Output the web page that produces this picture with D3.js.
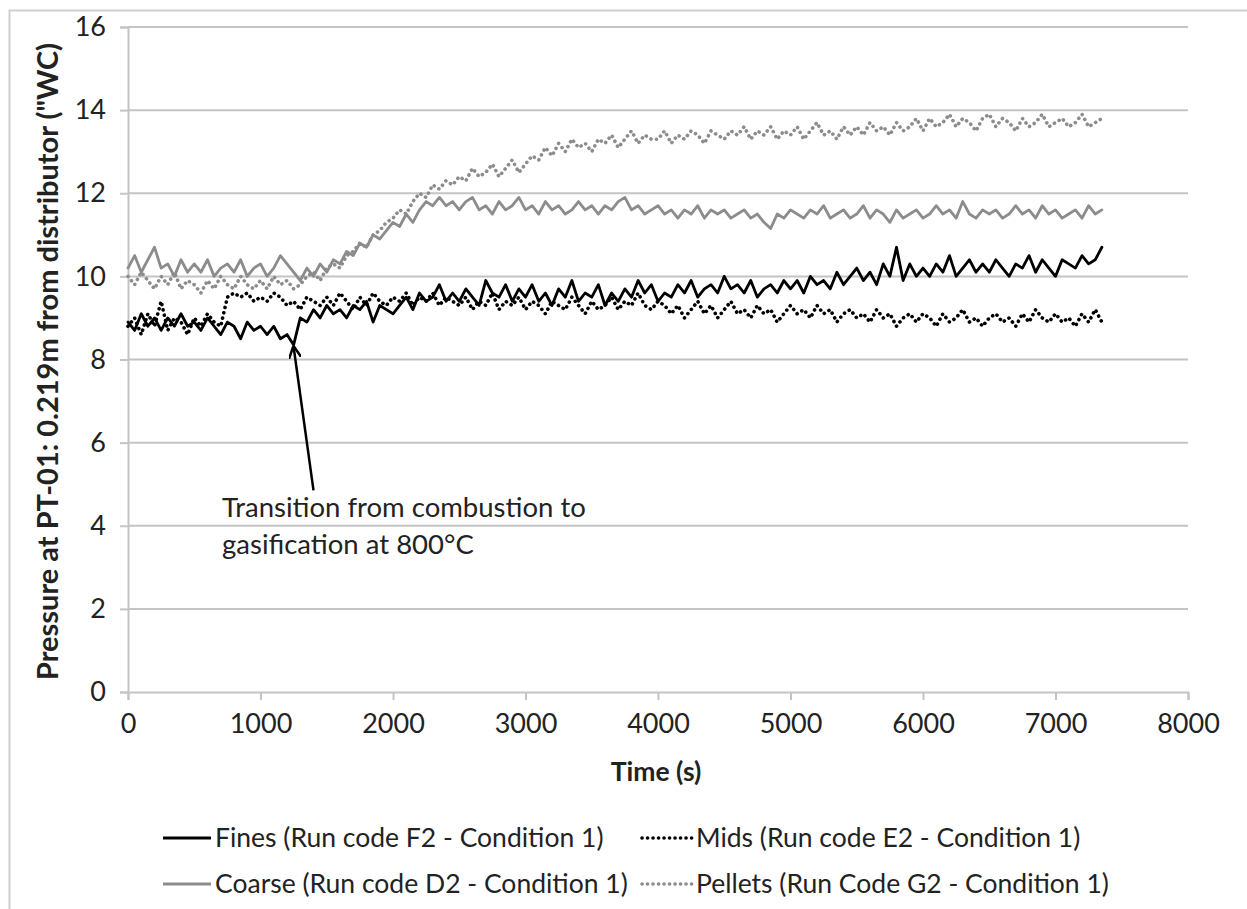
<!DOCTYPE html>
<html>
<head>
<meta charset="utf-8">
<script src="https://cdn.jsdelivr.net/npm/d3@7"></script>
<style>
  html, body { margin: 0; padding: 0; background: #fff; }
  svg { display: block; font-family: Lato, "Open Sans", sans-serif; }
</style>
</head>
<body>
<svg id="svg" width="1247" height="909"></svg>
<script>
// time axis: one reading every 50 s, 0 .. 7350 s
const timeStep = 50;

const fines = [
  8.9, 8.7, 9.1, 8.8, 9.0, 8.7, 9.0, 8.8, 9.1, 8.8,
  8.9, 8.7, 9.0, 8.8, 8.6, 8.9, 8.8, 8.5, 8.9, 8.7,
  8.8, 8.6, 8.8, 8.5, 8.6, 8.35, 9.0, 8.9, 9.2, 9.0,
  9.3, 9.1, 9.2, 9.0, 9.3, 9.2, 9.4, 8.9, 9.3, 9.2,
  9.1, 9.3, 9.5, 9.2, 9.6, 9.4, 9.5, 9.8, 9.4, 9.6,
  9.4, 9.7, 9.5, 9.3, 9.9, 9.6, 9.5, 9.8, 9.4, 9.7,
  9.5, 9.8, 9.4, 9.6, 9.3, 9.7, 9.5, 9.9, 9.4, 9.6,
  9.5, 9.8, 9.3, 9.6, 9.4, 9.7, 9.5, 9.9, 9.6, 9.8,
  9.4, 9.6, 9.5, 9.8, 9.6, 9.9, 9.5, 9.7, 9.8, 9.6,
  10.0, 9.7, 9.8, 9.6, 9.9, 9.5, 9.7, 9.8, 9.6, 9.9,
  9.7, 9.9, 9.6, 10.0, 9.8, 9.9, 9.7, 10.1, 9.8, 10.0,
  10.2, 9.9, 10.1, 9.8, 10.3, 10.0, 10.7, 9.9, 10.3, 10.0,
  10.2, 10.0, 10.3, 10.1, 10.5, 10.0, 10.2, 10.4, 10.1, 10.3,
  10.1, 10.4, 10.2, 10.0, 10.3, 10.2, 10.5, 10.1, 10.4, 10.2,
  10.0, 10.4, 10.3, 10.2, 10.5, 10.3, 10.4, 10.7
];

const mids = [
  8.8, 9.0, 8.6, 9.1, 8.8, 9.4, 8.7, 9.0, 8.9, 8.6,
  9.0, 8.8, 9.1, 8.9, 8.8, 9.5, 9.6, 9.5, 9.6, 9.4,
  9.5, 9.4, 9.6, 9.5, 9.3, 9.4, 9.2, 9.5, 9.4, 9.3,
  9.5, 9.3, 9.6, 9.4, 9.2, 9.5, 9.3, 9.6, 9.4, 9.3,
  9.5, 9.4, 9.6, 9.3, 9.5, 9.4, 9.6, 9.3, 9.5, 9.4,
  9.3, 9.5, 9.2, 9.4, 9.3, 9.6, 9.2, 9.4, 9.3, 9.5,
  9.2, 9.4, 9.3, 9.1, 9.4, 9.3, 9.2, 9.5, 9.3, 9.1,
  9.4, 9.2, 9.3, 9.5, 9.2, 9.4, 9.3, 9.6, 9.3, 9.2,
  9.4, 9.3, 9.1, 9.3, 9.0, 9.2, 9.4, 9.1, 9.3, 9.0,
  9.2, 9.4, 9.1, 9.2, 9.0, 9.3, 9.1, 9.2, 8.9, 9.1,
  9.3, 9.1, 9.2, 9.0, 9.3, 9.1, 9.2, 8.9, 9.1, 9.2,
  9.0, 9.1, 8.9, 9.2, 9.0, 9.1, 8.8, 9.0, 9.1, 8.9,
  9.1, 9.0, 8.8, 9.1, 8.9, 9.0, 9.2, 8.9, 9.0, 8.8,
  9.0, 9.1, 8.9, 9.0, 8.8, 9.1, 8.9, 9.2, 9.0, 8.9,
  9.1, 8.9, 9.0, 8.8, 9.1, 8.9, 9.2, 8.9
];

const coarse = [
  10.2, 10.5, 10.1, 10.4, 10.7, 10.2, 10.3, 10.0, 10.4, 10.1,
  10.3, 10.1, 10.4, 10.0, 10.2, 10.3, 10.1, 10.4, 10.0, 10.2,
  10.3, 10.0, 10.2, 10.5, 10.3, 10.1, 9.9, 10.2, 10.0, 10.3,
  10.1, 10.4, 10.3, 10.6, 10.5, 10.8, 10.7, 11.0, 10.9, 11.1,
  11.3, 11.2, 11.5, 11.3, 11.6, 11.8, 11.7, 11.9, 11.7, 11.8,
  11.6, 11.8, 11.9, 11.6, 11.7, 11.5, 11.8, 11.6, 11.7, 11.9,
  11.6, 11.7, 11.5, 11.8, 11.6, 11.7, 11.5, 11.6, 11.8, 11.6,
  11.7, 11.5, 11.7, 11.6, 11.8, 11.9, 11.6, 11.7, 11.5, 11.6,
  11.7, 11.5, 11.6, 11.4, 11.6, 11.5, 11.7, 11.4, 11.6, 11.5,
  11.6, 11.4, 11.5, 11.6, 11.4, 11.5, 11.3, 11.15, 11.5, 11.4,
  11.6, 11.5, 11.4, 11.6, 11.5, 11.7, 11.4, 11.5, 11.6, 11.4,
  11.5, 11.7, 11.4, 11.6, 11.5, 11.3, 11.6, 11.4, 11.5, 11.6,
  11.4, 11.5, 11.7, 11.5, 11.6, 11.4, 11.8, 11.5, 11.4, 11.6,
  11.5, 11.6, 11.4, 11.5, 11.7, 11.5, 11.6, 11.4, 11.7, 11.5,
  11.6, 11.4, 11.5, 11.6, 11.4, 11.7, 11.5, 11.6
];

const pellets = [
  10.0, 9.8, 10.1, 9.9, 9.7, 10.0, 9.8, 10.1, 9.7, 9.9,
  9.8, 9.6, 9.9, 9.7, 10.0, 9.8, 9.7, 10.0, 9.8, 9.7,
  9.9, 9.7, 10.0, 9.8, 9.9, 9.7, 9.8, 10.0, 10.1, 9.9,
  10.2, 10.3, 10.2, 10.5, 10.6, 10.8, 10.7, 11.0, 11.1, 11.3,
  11.4, 11.6, 11.5, 11.8, 12.0, 11.9, 12.2, 12.1, 12.3, 12.2,
  12.4, 12.3, 12.6, 12.4, 12.5, 12.7, 12.4, 12.6, 12.8, 12.5,
  12.7, 12.9, 12.8, 13.1, 12.9, 13.2, 13.0, 13.3, 13.1, 13.2,
  13.0, 13.3, 13.2, 13.4, 13.1, 13.3, 13.5, 13.2, 13.4, 13.3,
  13.3, 13.5, 13.2, 13.4, 13.3, 13.5, 13.4, 13.2, 13.5, 13.4,
  13.3, 13.5, 13.4, 13.6, 13.3, 13.5, 13.4, 13.6, 13.3, 13.5,
  13.4, 13.6, 13.3, 13.5, 13.7, 13.4, 13.5, 13.3, 13.6, 13.4,
  13.6, 13.4, 13.7, 13.5, 13.6, 13.4, 13.7, 13.5, 13.6, 13.8,
  13.5, 13.8, 13.6, 13.7, 13.9, 13.6, 13.8, 13.7, 13.5, 13.8,
  13.9, 13.6, 13.8, 13.7, 13.5, 13.8, 13.6, 13.7, 13.9, 13.6,
  13.7, 13.8, 13.6, 13.7, 13.9, 13.6, 13.7, 13.8
];

const xTicks = [0, 1000, 2000, 3000, 4000, 5000, 6000, 7000, 8000];
const yTicks = [0, 2, 4, 6, 8, 10, 12, 14, 16];

const seriesNames = [
  "Fines (Run code F2 - Condition 1)",
  "Mids (Run code E2 - Condition 1)",
  "Coarse (Run code D2 - Condition 1)",
  "Pellets (Run Code G2 - Condition 1)"
];

const annotationLines = ["Transition from combustion to", "gasification at 800\u00B0C"];
const annotationPoint = { time: 1250, value: 8.3 };   // arrow tip
const annotationTail = { time: 1400, value: 4.85 };   // arrow tail

const gray = "#8c8c8c";
const gridColor = "#c4c4c4";

// series table built from the arrays above
const series = [
  { name: seriesNames[0], values: fines,   color: "#000", dash: null },
  { name: seriesNames[1], values: mids,    color: "#000", dash: "0.1 5.4" },
  { name: seriesNames[2], values: coarse,  color: gray,   dash: null },
  { name: seriesNames[3], values: pellets, color: gray,   dash: "0.1 5.4" }
];

let svg = d3.select("svg");
let margin = {top: 27, right: 59, bottom: 217, left: 128};
let width = 1247 - margin.left - margin.right;
let height = 909 - margin.top - margin.bottom;

// outer chart frame (runs off the right and bottom edge)
svg.append("rect")
  .attr("x", 9.5).attr("y", 10.5)
  .attr("width", 1260).attr("height", 920)
  .attr("fill", "none")
  .attr("stroke", "#cfcfcf")
  .attr("stroke-width", 2);

let x = d3.scaleLinear().domain([0, 8000]).range([0, width]);
let y = d3.scaleLinear().domain([0, 16]).range([height, 0]);

let g = svg.append("g")
  .attr("transform", "translate(" + margin.left + "," + margin.top + ")");

// horizontal gridlines + y axis
let yAxis = g.append("g")
  .call(d3.axisLeft(y).tickValues(yTicks).tickSize(8).tickPadding(14));
yAxis.select(".domain").attr("stroke", gridColor).attr("stroke-width", 2);
yAxis.selectAll(".tick line").attr("stroke", gridColor).attr("stroke-width", 2);
yAxis.selectAll(".tick text")
  .attr("font-size", 27).attr("fill", "#222")
  .attr("font-family", "Lato, sans-serif");

g.append("g")
  .selectAll("line")
  .data(yTicks.filter(d => d > 0))
  .enter().append("line")
    .attr("x1", 0).attr("x2", width)
    .attr("y1", d => y(d)).attr("y2", d => y(d))
    .attr("stroke", gridColor)
    .attr("stroke-width", 2);

let xAxis = g.append("g")
  .attr("transform", "translate(0," + height + ")")
  .call(d3.axisBottom(x).tickValues(xTicks).tickFormat(d3.format("d"))
    .tickSize(8).tickPadding(14));
xAxis.select(".domain").attr("stroke", gridColor).attr("stroke-width", 2);
xAxis.selectAll(".tick line").attr("stroke", gridColor).attr("stroke-width", 2);
xAxis.selectAll(".tick text")
  .attr("font-size", 27).attr("fill", "#222")
  .attr("font-family", "Lato, sans-serif");

// data lines
let line = d3.line()
  .x((d, i) => x(i * timeStep))
  .y(d => y(d));

series.forEach(s => {
  g.append("path")
   .datum(s.values)
   .attr("fill", "none")
   .attr("stroke", s.color)
   .attr("stroke-width", s.dash ? 3.6 : 2.8)
   .attr("stroke-linejoin", "round")
   .attr("stroke-linecap", "round")
   .attr("stroke-dasharray", s.dash)
   .attr("d", line);
});

// axis titles
g.append("text")
  .attr("x", width / 2 - 2)
  .attr("y", height + 89)
  .attr("text-anchor", "middle")
  .attr("font-size", 26.5)
  .attr("font-weight", "bold")
  .attr("fill", "#222")
  .text("Time (s)");

svg.append("text")
  .attr("transform", "translate(58," + (margin.top + height / 2 + 2) + ") rotate(-90)")
  .attr("text-anchor", "middle")
  .attr("font-size", 29)
  .attr("font-weight", "bold")
  .attr("fill", "#222")
  .text("Pressure at PT-01: 0.219m from distributor (\"WC)");

// annotation arrow
svg.append("defs").append("marker")
  .attr("id", "head")
  .attr("viewBox", "0 0 10 10")
  .attr("refX", 9).attr("refY", 5)
  .attr("markerWidth", 5).attr("markerHeight", 5)
  .attr("orient", "auto")
  .append("path")
    .attr("d", "M0,0 L10,5 L0,10")
    .attr("fill", "none")
    .attr("stroke", "#000")
    .attr("stroke-width", 2);

g.append("line")
  .attr("x1", x(annotationTail.time)).attr("y1", y(annotationTail.value))
  .attr("x2", x(annotationPoint.time)).attr("y2", y(annotationPoint.value))
  .attr("stroke", "#000")
  .attr("stroke-width", 2.5)
  .attr("marker-end", "url(#head)");

let note = g.append("text")
  .attr("font-size", 27.5)
  .attr("fill", "#222");
annotationLines.forEach((t, i) => {
  note.append("tspan")
    .attr("x", 94)
    .attr("y", 490 + i * 37)
    .text(t);
});

// legend: two columns, two rows
let legendCols = [163, 642];
let legendRows = [838, 884];
series.forEach((s, i) => {
  let lx = legendCols[i % 2];
  let ly = legendRows[Math.floor(i / 2)];
  let sampleLen = i % 2 ? 50 : 48;
  svg.append("line")
    .attr("x1", lx).attr("x2", lx + sampleLen)
    .attr("y1", ly).attr("y2", ly)
    .attr("stroke", s.color)
    .attr("stroke-width", s.dash ? 3.6 : 3)
    .attr("stroke-linecap", s.dash ? "round" : "butt")
    .attr("stroke-dasharray", s.dash);
  svg.append("text")
    .attr("x", lx + sampleLen + 4)
    .attr("y", ly)
    .attr("dy", "0.35em")
    .attr("font-size", 26.5)
    .attr("fill", "#222")
    .text(s.name);
});
</script>
</body>
</html>
